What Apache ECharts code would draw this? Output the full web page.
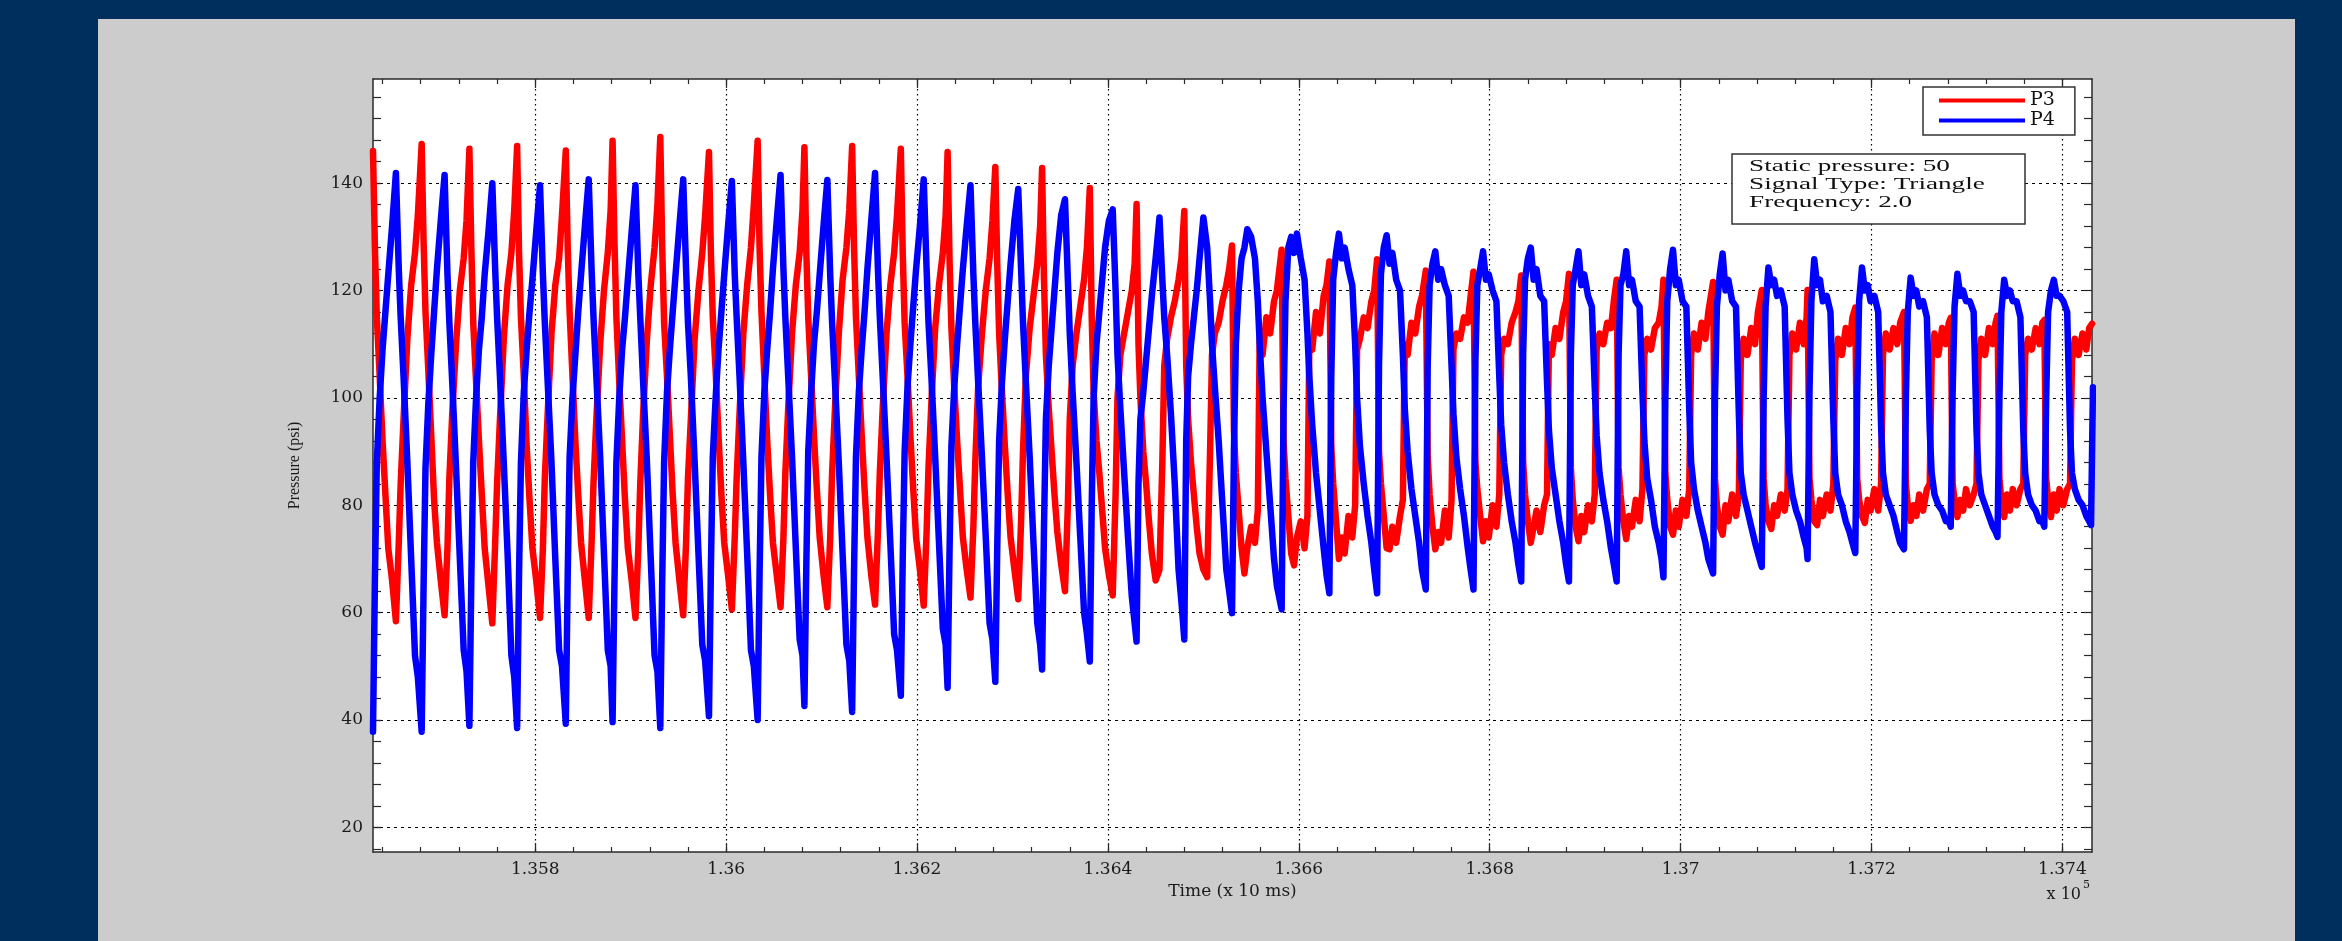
<!DOCTYPE html>
<html>
<head>
<meta charset="utf-8">
<script src="https://cdn.jsdelivr.net/npm/echarts@6/dist/echarts.min.js"></script>
<style>
html,body{margin:0;padding:0;background:#002f5e;}
#chart{width:2342px;height:941px;}
</style>
</head>
<body>
<div id="chart"></div>
<script>
// ---------------- data ----------------
const X_MIN = 135630, X_MAX = 137431;
const Y_MIN = 15.4, Y_MAX = 159.4;
const X_TICK_VALUES = [135800, 136000, 136200, 136400, 136600, 136800, 137000, 137200, 137400];
const X_TICK_LABELS = ['1.358', '1.36', '1.362', '1.364', '1.366', '1.368', '1.37', '1.372', '1.374'];
const Y_TICK_VALUES = [20, 40, 60, 80, 100, 120, 140];
const SERIES_NAMES = ['P3', 'P4'];

// sample times inside each 0.5 s cycle (units of 10 ms after the P3 peak / P4 trough)
const CYCLE_OFFSETS = [0, 2, 4, 7, 10, 13, 16, 20, 24, 27, 29, 32, 36, 40, 44, 47];

// P3: [cycle start time, values at CYCLE_OFFSETS]
const P3_CYCLES = [
  [135630,146,128,115,104,92,82,72,66,58.4,73,84,96,111,121,127,134],
  [135681,147.3,129,116,105,93,81,73,66,59.5,72,85,97,110,120,126,133],
  [135731,146.4,128,114,103,92,82,72,65,58,73,84,96,111,121,127,135],
  [135781,146.9,127,115,104,91,81,72,66,59,72,85,97,112,121,126,134],
  [135832,146.1,128,116,104,92,82,73,66,59,73,84,96,110,120,127,135],
  [135881,147.9,129,115,103,92,81,72,66,59,72,84,97,111,121,128,136],
  [135931,148.6,128,114,104,93,82,73,66,59.5,73,85,96,111,120,127,134],
  [135982,145.8,127,115,105,93,82,73,67,60.6,74,85,97,112,121,128,136],
  [136033,147.9,128,116,104,92,82,73,67,61,74,86,98,112,121,127,135],
  [136082,146.7,127,115,104,93,83,74,67,61,74,86,98,112,122,128,135],
  [136132,146.9,128,115,104,93,83,74,67,61.5,75,86,98,112,121,127,134],
  [136183,146.4,127,114,104,93,83,74,68,61.3,75,87,99,113,121,127,134],
  [136232,145.8,126,113,102,92,83,74,68,62.8,76,88,102,112,120,126,133],
  [136282,143,125,112,101,91,82,74,68,62.5,77,90,104,113,119,125,132],
  [136331,142.8,122,108,98,90,82,75,69,64,80,96,106,112,117,122,128],
  [136381,139.1,115,101,92,86,79,72,67,63.2,82,100,108,112,116,120,125],
  [136430,136.1,110,100,90,84,77,71,66,68,88,106,111,115,118,122,126],
  [136480,134.8,106,96,88,82,76,71,68,66.6,90,108,112,114,118,121,124],
  [136530,128.4,94,86,79,72,67.3,72,76,73,79,111,108,115,112,118,120],
  [136582,127.6,92,85,78,71,68.8,74,77,72,78,110,109,116,112,119,121],
  [136632,125.4,91,84,77,70,74,71,78,74,80,109,111,115,113,118,120],
  [136682,125.8,90,84,78,72,71.8,76,73,78,81,110,108,114,112,117,119],
  [136733,123.7,89,82,76,71.8,75,73,79,74,81,109,112,111,115,114,119],
  [136783,123.5,88,83,78,73.3,77,74,80,76,82,108,111,110,114,116,118],
  [136833,122.8,88,82,77,73,76,79,75,80,82,110,108,113,111,116,118],
  [136883,123.1,87,81,76,73.3,78,75,80,77,82,109,112,110,114,113,118],
  [136933,122,87,82,77,73.7,78,76,81,77,83,108,111,109,113,114,117],
  [136982,122,86,81,76,74.5,79,76,81,78,83,108,112,109,114,111,116],
  [137034,121.6,85,80,76,74.5,80,77,82,78,82,107,111,108,113,110,116],
  [137085,120.1,85,80,77,75.6,80,78,82,79,83,108,112,109,114,110,115],
  [137133,120.1,85,81,77,76.3,81,78,82,79,84,107,111,108,113,110,115],
  [137183,116.8,85,81,78,76.7,81,79,83,79,84,108,112,109,113,110,114],
  [137234,116,84,80,77.1,80,78,82,79,83,84,107,112,108,113,110,114],
  [137283,114.9,84,81,77.8,81,79,83,80,82,84,107,111,108,113,110,114],
  [137332,115.3,85,81,77.8,82,79,83,80,83,84,108,111,109,113,110,114],
  [137381,114.5,85,81,77.8,82,79,83,80,83,84,107,111,108,112,109,113]
];
const P3_END = [[137431, 113.8]];

// P4: [cycle start time, values at CYCLE_OFFSETS]
const P4_CYCLES = [
  [135630,37.8,66,88,100,109,116,123,132,141.9,124,115,104,88,70,52,48],
  [135681,37.8,65,87,99,108,116,124,133,141.5,123,114,103,87,70,53,49],
  [135731,38.9,66,88,100,109,115,123,131,140,124,115,104,88,71,52,48],
  [135781,38.5,67,88,101,109,116,122,131,139.6,123,114,103,88,70,53,50],
  [135832,39.3,67,89,100,108,116,123,132,140.7,124,115,104,89,71,53,50],
  [135881,39.6,66,88,100,109,115,122,131,139.6,123,115,103,88,70,52,49],
  [135931,38.5,66,88,101,109,116,123,132,140.7,124,114,104,88,71,54,51],
  [135982,40.7,68,89,100,109,116,123,132,140.4,123,115,104,88,71,53,50],
  [136033,40,67,89,101,109,116,124,133,141.5,124,115,104,89,72,55,52],
  [136082,42.6,69,90,101,110,116,123,132,140.6,123,114,103,88,71,54,51],
  [136132,41.5,68,89,101,109,116,124,133,141.9,124,115,104,89,73,56,53],
  [136183,44.5,70,90,102,110,117,124,132,140.7,124,114,104,89,73,57,54],
  [136232,46,71,91,102,110,117,124,132,139.6,123,114,103,89,74,58,55],
  [136282,47.1,72,92,103,111,118,125,133,138.9,124,114,103,89,73,58,54],
  [136331,49.4,76,96,106,113,120,127,134,137,122,112,101,88,74,60,56],
  [136381,50.9,80,100,110,116,122,128,133,135.1,120,108,98,86,74,63,58],
  [136430,54.6,84,96,101,107,113,119,126,133.6,122,115,108,97,84,68,62],
  [136480,55,92,104,110,115,120,126,133.6,128,118,110,102,92,80,68,64],
  [136530,59.9,90,110,120,126,128,131.4,130,126,118,110,100,90,80,70,65],
  [136582,60.6,98,118,128,130,127,130.6,126,122,112,104,95,86,79,72,67],
  [136632,63.6,104,122,127,130.6,126,128,124,121,110,100,91,84,78,73,68],
  [136682,63.6,106,123,128,130.3,125,127,122,120,108,98,90,83,78,73,68],
  [136733,64.3,106,121,125,127.3,122,124,121,119,106,97,89,83,78,72,68],
  [136783,64.3,107,121,124,127.3,122,123,120,118,104,95,88,82,77,73,69],
  [136833,65.8,108,122,126,128,122,124,119,118,103,94,87,82,77,73,69],
  [136883,65.8,108,121,124,127.3,121,123,119,117,102,93,86,81,77,72,69],
  [136933,65.8,108,121,123,127.3,121,122,118,117,101,92,85,81,76,73,70],
  [136982,66.6,100,118,124,127.6,121,122,118,117,98,88,83,79,76,73,70],
  [137034,67.3,100,117,123,126.9,120,122,118,117,97,86,82,79,76,73,71],
  [137085,68.5,100,117,124.3,121,122,119,120,117,96,86,82,79,77,74,72],
  [137133,70,101,118,125.8,121,122,118,119,116,96,86,82,80,77,75,73],
  [137183,71.1,101,118,124.3,120,121,118,119,116,95,86,82,80,78,75,73],
  [137234,71.8,100,116,122.4,119,120,117,118,115,94,86,82,80,79,77,77],
  [137283,76,101,117,123.1,119,120,118,118,116,94,86,82,80,78,76,75],
  [137332,74.1,100,116,122,119,120,118,118,115,94,86,82,80,79,77,77],
  [137381,76,100,116,120,122,119,119,118,116,94,86,83,81,80,78,77]
];
const P4_END = [[137430, 76.3], [137432, 102]];

const INFO_LINES = ['Static pressure: 50', 'Signal Type: Triangle', 'Frequency: 2.0'];

// ---------------- build ----------------
function buildSeriesData(cycles, tail) {
  const out = [];
  cycles.forEach(function (row) {
    CYCLE_OFFSETS.forEach(function (off, i) { out.push([row[0] + off, row[i + 1]]); });
  });
  return out.concat(tail);
}
const X_MINOR_TICKS = [];
for (let v = 135640; v <= X_MAX; v += 40) X_MINOR_TICKS.push(v);
const Y_MINOR_TICKS = [];
for (let v = 16; v <= Y_MAX; v += 4) Y_MINOR_TICKS.push(v);

const AXIS_COLOR = '#2a2a2a';
const axisLine = {show: true, onZero: false, lineStyle: {color: AXIS_COLOR, width: 1.5}};
const tickStyle = {color: AXIS_COLOR, width: 1.2};
const labelFont = {fontFamily: 'DejaVu Serif', fontSize: 17, color: '#1a1a1a'};
const LINE_W = 6.5;

function xAux(position, withLine, len, values) {
  return {
    type: 'value', gridIndex: 0, position: position, min: X_MIN, max: X_MAX,
    axisLine: withLine ? axisLine : {show: false},
    axisTick: {show: true, inside: true, length: len, customValues: values, lineStyle: tickStyle},
    axisLabel: {show: false}, splitLine: {show: false}
  };
}
function yAux(position, withLine) {
  return {
    type: 'value', gridIndex: 0, position: position, min: Y_MIN, max: Y_MAX,
    axisLine: withLine ? axisLine : {show: false},
    axisTick: {show: true, inside: true, length: 8, customValues: Y_MINOR_TICKS, lineStyle: tickStyle},
    axisLabel: {show: false}, splitLine: {show: false}
  };
}

const chart = echarts.init(document.getElementById('chart'), null, {renderer: 'canvas'});
const option = {
  animation: false,
  backgroundColor: '#002f5e',
  grid: {
    left: 373, top: 79, width: 1719, height: 773,
    show: true, backgroundColor: '#ffffff', borderWidth: 0,
    containLabel: false, outerBoundsMode: 'none'
  },
  legend: {
    show: true, data: SERIES_NAMES, orient: 'vertical',
    left: 1923, top: 87, icon: 'rect', itemWidth: 86, itemHeight: 4, itemGap: 1,
    padding: [4, 20, 5, 16],
    backgroundColor: '#ffffff', borderColor: '#333333', borderWidth: 1.5, borderRadius: 0,
    itemStyle: {borderWidth: 0},
    textStyle: {fontFamily: 'DejaVu Serif', fontSize: 19, color: '#111111', lineHeight: 18},
    selectedMode: false
  },
  xAxis: [
    {
      type: 'value', gridIndex: 0, position: 'bottom', min: X_MIN, max: X_MAX,
      axisLine: axisLine,
      axisTick: {show: true, inside: true, length: 9, customValues: X_TICK_VALUES, lineStyle: tickStyle},
      axisLabel: Object.assign({
        show: true, customValues: X_TICK_VALUES, margin: 9,
        formatter: function (v) { const i = X_TICK_VALUES.indexOf(v); return i >= 0 ? X_TICK_LABELS[i] : ''; }
      }, labelFont),
      splitLine: {show: true, lineStyle: {color: '#000000', width: 1.2, type: [1.5, 3.5]}},
      name: 'Time (x 10 ms)', nameLocation: 'middle', nameGap: 27,
      nameTextStyle: {fontFamily: 'DejaVu Serif', fontSize: 17, color: '#1a1a1a'}
    },
    xAux('bottom', false, 5, X_MINOR_TICKS),
    xAux('top', true, 5, X_MINOR_TICKS),
    xAux('top', false, 9, X_TICK_VALUES)
  ],
  yAxis: [
    {
      type: 'value', gridIndex: 0, position: 'left', min: Y_MIN, max: Y_MAX,
      axisLine: axisLine,
      axisTick: {show: true, inside: true, length: 8, customValues: Y_TICK_VALUES, lineStyle: tickStyle},
      axisLabel: Object.assign({show: true, customValues: Y_TICK_VALUES, margin: 10}, labelFont),
      splitLine: {show: true, lineStyle: {color: '#000000', width: 1.2, type: [3, 4]}},
      name: 'Pressure (psi)', nameLocation: 'middle', nameGap: 70,
      nameTextStyle: {fontFamily: 'Liberation Serif', fontSize: 16, color: '#1a1a1a'}
    },
    yAux('left', false),
    yAux('right', true)
  ],
  series: [
    {
      name: SERIES_NAMES[0], type: 'line', xAxisIndex: 0, yAxisIndex: 0,
      data: buildSeriesData(P3_CYCLES, P3_END),
      symbol: 'none', showSymbol: false, smooth: false, sampling: null, clip: true,
      color: '#ff0000', lineStyle: {color: '#ff0000', width: LINE_W, join: 'round', cap: 'round'},
      emphasis: {disabled: true}, z: 2
    },
    {
      name: SERIES_NAMES[1], type: 'line', xAxisIndex: 0, yAxisIndex: 0,
      data: buildSeriesData(P4_CYCLES, P4_END),
      symbol: 'none', showSymbol: false, smooth: false, sampling: null, clip: true,
      color: '#0000ff', lineStyle: {color: '#0000ff', width: LINE_W, join: 'round', cap: 'round'},
      emphasis: {disabled: true}, z: 3
    }
  ],
  graphic: [
    {type: 'rect', z: -100, silent: true, shape: {x: 98, y: 19, width: 2197, height: 922}, style: {fill: '#cccccc'}},
    {type: 'rect', z: 100, silent: true, shape: {x: 1732, y: 154, width: 293, height: 70},
      style: {fill: '#ffffff', stroke: '#333333', lineWidth: 1.5}},
    {type: 'text', z: 101, silent: true, x: 1749, y: 167, scaleX: 1.6,
      style: {text: INFO_LINES[0], fontFamily: 'Liberation Serif', fontSize: 17, fill: '#111111', align: 'left', verticalAlign: 'middle', textAlign: 'left', textVerticalAlign: 'middle'}},
    {type: 'text', z: 101, silent: true, x: 1749, y: 185, scaleX: 1.6,
      style: {text: INFO_LINES[1], fontFamily: 'Liberation Serif', fontSize: 17, fill: '#111111', align: 'left', verticalAlign: 'middle', textAlign: 'left', textVerticalAlign: 'middle'}},
    {type: 'text', z: 101, silent: true, x: 1749, y: 203, scaleX: 1.6,
      style: {text: INFO_LINES[2], fontFamily: 'Liberation Serif', fontSize: 17, fill: '#111111', align: 'left', verticalAlign: 'middle', textAlign: 'left', textVerticalAlign: 'middle'}},
    {type: 'text', z: 101, silent: true, x: 2081, y: 895,
      style: {text: 'x 10', fontFamily: 'DejaVu Serif', fontSize: 16, fill: '#1a1a1a', align: 'right', verticalAlign: 'middle', textAlign: 'right', textVerticalAlign: 'middle'}},
    {type: 'text', z: 101, silent: true, x: 2083, y: 885,
      style: {text: '5', fontFamily: 'DejaVu Serif', fontSize: 11, fill: '#1a1a1a', align: 'left', verticalAlign: 'middle', textAlign: 'left', textVerticalAlign: 'middle'}}
  ]
};
chart.setOption(option);
</script>
</body>
</html>
